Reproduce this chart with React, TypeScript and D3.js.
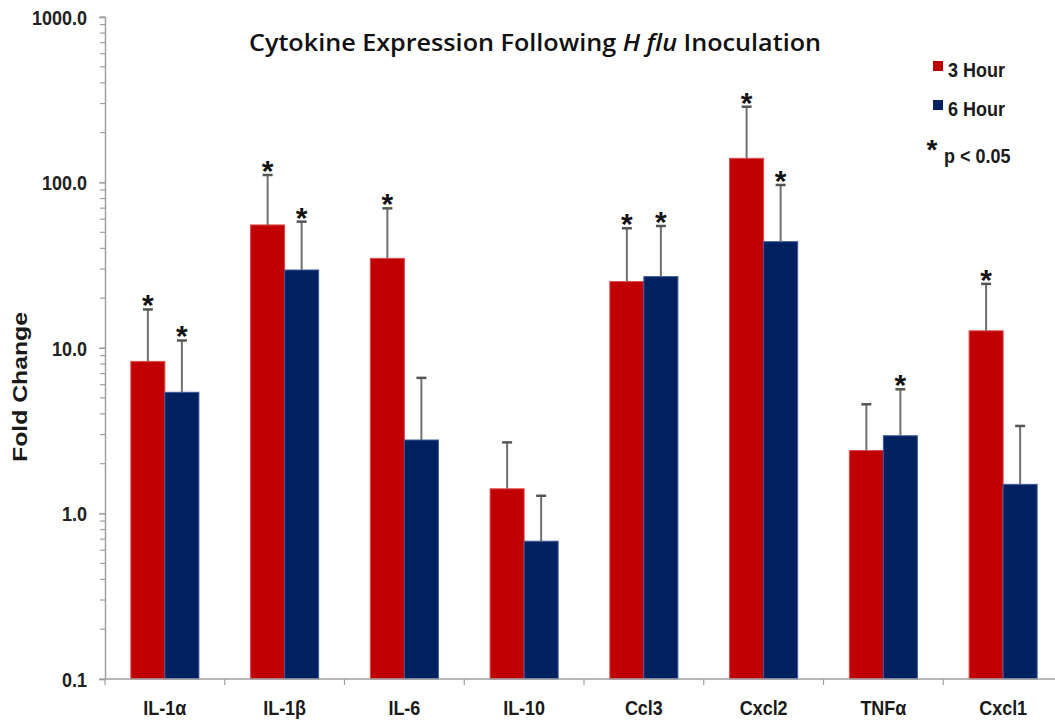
import * as d3 from "d3";
import { useEffect, useRef } from "react";

// data
const categories = ["IL-1α", "IL-1β", "IL-6", "IL-10", "Ccl3", "Cxcl2", "TNFα", "Cxcl1"];
const seriesNames = ["3 Hour", "6 Hour"];
const hour3 = [8.3, 55.4, 34.8, 1.41, 25.2, 140, 2.4, 12.7];
const hour3Upper = [17.1, 111, 69.8, 2.69, 52.9, 287, 4.57, 24.4];
const hour6 = [5.4, 29.6, 2.78, 0.68, 27.0, 43.9, 2.95, 1.5];
const hour6Upper = [11.1, 58, 6.6, 1.28, 54.6, 96.6, 5.63, 3.38];
const sig3 = [true, true, true, false, true, true, false, true];
const sig6 = [true, true, false, false, true, true, true, false];
const yTickValues = [0.1, 1, 10, 100, 1000];

const colors = ["#C00000", "#002060"];
const strokes = ["#e04848", "#3a5a9a"];

// text in the reference is a little taller than wide
const SY = 1.15;

export default function App() {
  const ref = useRef<SVGSVGElement>(null);

  useEffect(() => {
    const W = 1055;
    const H = 721;
    const svg = d3.select(ref.current);
    svg.selectAll("*").remove();
    svg.attr("width", W).attr("height", H);

    const bold = "'Liberation Sans', Arial, sans-serif";

    const y = d3.scaleLog().domain([0.1, 1000]).range([679, 17]);
    const x = d3.scaleBand().domain(categories).range([105, 1063]).padding(0);
    const xs = d3
      .scaleBand()
      .domain(seriesNames)
      .range([0, x.bandwidth()])
      .paddingInner(0)
      .paddingOuter(0.76);

    const g = svg.append("g");

    // stretched bold label
    const label = (
      parent: d3.Selection<SVGGElement, unknown, null, undefined>,
      tx: number,
      ty: number,
      txt: string,
      size: number,
      anchor = "start"
    ) =>
      parent
        .append("text")
        .attr("transform", `translate(${tx},${ty}) scale(1,${SY})`)
        .attr("text-anchor", anchor)
        .attr("font-family", bold)
        .attr("font-weight", "bold")
        .attr("font-size", size)
        .attr("fill", "#1a1a1a")
        .text(txt);

    // minor ticks on the log axis
    g.selectAll("line.minor")
      .data(y.ticks())
      .enter()
      .append("line")
      .attr("x1", 100)
      .attr("x2", 105)
      .attr("y1", (d) => y(d))
      .attr("y2", (d) => y(d))
      .attr("stroke", "#a0a0a0")
      .attr("stroke-width", 1.2);

    // y axis
    const yAxis = d3
      .axisLeft(y)
      .tickValues(yTickValues)
      .tickFormat(d3.format(".1f"))
      .tickSize(6)
      .tickPadding(12);
    const ya = g.append("g").attr("transform", "translate(105,0)").call(yAxis);
    ya.select(".domain").attr("stroke", "#a0a0a0").attr("stroke-width", 1.5);
    ya.selectAll(".tick line").attr("stroke", "#a0a0a0").attr("stroke-width", 1.2);
    ya.selectAll(".tick text")
      .attr("font-family", bold)
      .attr("font-weight", "bold")
      .attr("font-size", 18)
      .attr("fill", "#222")
      .attr("dy", "0.35em")
      .attr("transform", `scale(1,${SY})`);

    // bars
    const series = [
      { name: seriesNames[0], vals: hour3, upper: hour3Upper, sig: sig3 },
      { name: seriesNames[1], vals: hour6, upper: hour6Upper, sig: sig6 },
    ];

    series.forEach((s, si) => {
      const grp = g.append("g");
      grp.selectAll("rect")
        .data(s.vals)
        .enter()
        .append("rect")
        .attr("x", (_, i) => x(categories[i])! + xs(s.name)!)
        .attr("y", (d) => y(d))
        .attr("width", xs.bandwidth())
        .attr("height", (d) => y(0.1) - y(d))
        .attr("fill", colors[si])
        .attr("stroke", strokes[si])
        .attr("stroke-width", 1);

      const cx = (i: number) => x(categories[i])! + xs(s.name)! + xs.bandwidth() / 2;

      // error bars
      grp.selectAll("line.err")
        .data(s.upper)
        .enter()
        .append("line")
        .attr("x1", (_, i) => cx(i))
        .attr("x2", (_, i) => cx(i))
        .attr("y1", (_, i) => y(s.vals[i]))
        .attr("y2", (d) => y(d))
        .attr("stroke", "#707070")
        .attr("stroke-width", 2);
      grp.selectAll("line.cap")
        .data(s.upper)
        .enter()
        .append("line")
        .attr("x1", (_, i) => cx(i) - 5)
        .attr("x2", (_, i) => cx(i) + 5)
        .attr("y1", (d) => y(d))
        .attr("y2", (d) => y(d))
        .attr("stroke", "#555")
        .attr("stroke-width", 2.5);

      // significance stars
      grp.selectAll("text.star")
        .data(s.upper.map((u, i) => ({ u, i })).filter((d) => s.sig[d.i]))
        .enter()
        .append("text")
        .attr("x", (d) => cx(d.i))
        .attr("y", (d) => y(d.u) + 6)
        .attr("text-anchor", "middle")
        .attr("font-family", bold)
        .attr("font-weight", "bold")
        .attr("font-size", 30)
        .attr("fill", "#111")
        .text("*");
    });

    // x axis
    g.append("line")
      .attr("x1", 105)
      .attr("x2", W)
      .attr("y1", y(0.1))
      .attr("y2", y(0.1))
      .attr("stroke", "#a0a0a0")
      .attr("stroke-width", 1.5);
    g.selectAll("line.xtick")
      .data(categories)
      .enter()
      .append("line")
      .attr("x1", (d) => x(d)!)
      .attr("x2", (d) => x(d)!)
      .attr("y1", y(0.1))
      .attr("y2", y(0.1) + 6)
      .attr("stroke", "#a0a0a0")
      .attr("stroke-width", 1.2);
    categories.forEach((c) => {
      label(g, x(c)! + x.bandwidth() / 2, 715, c, 18, "middle");
    });

    // y axis title
    g.append("text")
      .attr("transform", "translate(27,387) rotate(-90)")
      .attr("text-anchor", "middle")
      .attr("font-family", bold)
      .attr("font-weight", "bold")
      .attr("font-size", 21)
      .attr("fill", "#1a1a1a")
      .attr("textLength", 150)
      .attr("lengthAdjust", "spacingAndGlyphs")
      .text("Fold Change");

    // title
    const title = g
      .append("text")
      .attr("x", 535)
      .attr("y", 51)
      .attr("text-anchor", "middle")
      .attr("font-family", "'Open Sans', sans-serif")
      .attr("font-weight", 600)
      .attr("font-size", 24)
      .attr("fill", "#111")
      .attr("textLength", 572)
      .attr("lengthAdjust", "spacingAndGlyphs");
    title.append("tspan").text("Cytokine Expression Following ");
    title.append("tspan").attr("font-style", "italic").text("H flu");
    title.append("tspan").text(" Inoculation");

    // legend
    const lg = g.append("g");
    seriesNames.forEach((n, i) => {
      lg.append("rect")
        .attr("x", 933)
        .attr("y", 61 + i * 39)
        .attr("width", 10)
        .attr("height", 10)
        .attr("fill", colors[i]);
      label(lg, 948, 77 + i * 39, n, 18);
    });
    lg.append("text")
      .attr("x", 932)
      .attr("y", 159)
      .attr("text-anchor", "middle")
      .attr("font-family", bold)
      .attr("font-weight", "bold")
      .attr("font-size", 28)
      .attr("fill", "#111")
      .text("*");
    label(lg, 944, 163, "p < 0.05", 18);
  }, []);

  return (
    <svg
      ref={ref}
      style={{ position: "absolute", left: 0, top: 0, background: "#fff" }}
    ></svg>
  );
}
